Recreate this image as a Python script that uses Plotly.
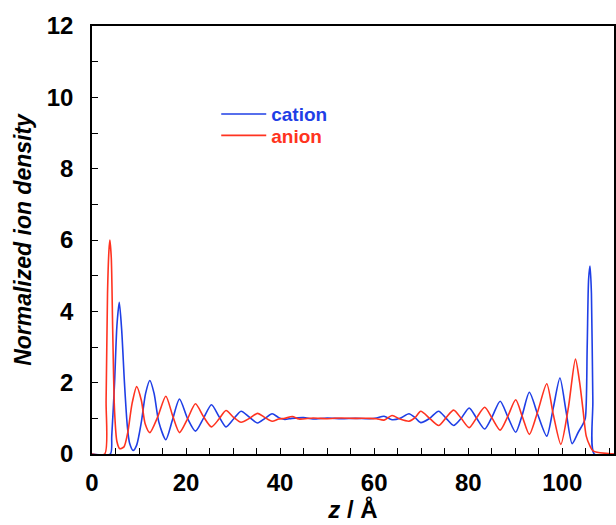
import plotly.graph_objects as go

# Cation (blue) density profile
cation_z = [0, 3.9, 4.2, 4.8, 5.3, 5.8, 6.3, 6.9, 7.5, 8.0, 8.75, 9.5, 10.5, 11.4, 12.3,
            13.2, 14.2, 15.7, 17.1, 18.6, 20.3, 22.0, 23.7, 25.4, 27.0, 28.5, 30.1,
            31.7, 33.5, 35.2, 36.8, 38.3, 39.7, 41.0, 42.5, 45.0, 47.0, 50.0, 53.0,
            56.0, 59.0, 60.5, 62.1, 63.8, 65.5, 67.4, 68.7, 69.9, 71.8, 73.7, 75.3,
            76.9, 78.5, 80.2, 81.8, 83.5, 85.1, 86.8, 88.4, 90.1, 91.5, 93.0, 94.8,
            96.7, 98.1, 99.5, 100.8, 102.1, 103.4, 104.4, 104.9, 105.3, 105.6, 105.9,
            106.2, 106.5, 106.8, 111.0]
cation_rho = [0, 0, 0.5, 2.0, 3.6, 4.25, 3.5, 2.0, 0.8, 0.3, 0.1, 0.25, 0.9, 1.7, 2.06,
              1.7, 0.9, 0.4, 0.95, 1.54, 1.0, 0.64, 1.0, 1.38, 1.05, 0.76, 0.98,
              1.2, 1.03, 0.87, 1.0, 1.13, 1.02, 0.97, 1.0, 1.02, 0.98, 1.01, 0.99,
              1.0, 0.99, 1.01, 1.06, 0.96, 1.0, 1.13, 1.02, 0.88, 1.0, 1.2, 1.0,
              0.8, 1.0, 1.29, 1.0, 0.7, 1.05, 1.48, 1.05, 0.61, 1.1, 1.73, 1.1,
              0.5, 1.3, 2.13, 1.2, 0.29, 0.61, 0.84, 1.0, 3.0, 4.9, 5.27,
              4.5, 1.5, 0, 0]

# Anion (red) density profile
anion_z = [0, 2.7, 3.0, 3.3, 3.6, 3.8, 4.1, 4.4, 4.8, 5.3, 5.9, 6.8, 7.6, 8.5, 9.5,
           10.5, 11.3, 12.3, 14.0, 15.7, 17.2, 18.6, 20.3, 22.0, 23.7, 25.4, 27.0,
           28.5, 30.1, 31.7, 33.5, 35.2, 36.8, 38.3, 39.7, 41.0, 42.6, 44.0, 47.0,
           50.0, 53.0, 56.0, 59.0, 60.5, 62.1, 63.8, 65.5, 67.4, 68.7, 69.9, 71.8,
           73.7, 75.3, 76.9, 78.5, 80.2, 81.8, 83.5, 85.1, 86.8, 88.4, 90.1, 91.5,
           93.0, 94.8, 96.7, 98.1, 99.7, 101.3, 102.8, 103.7, 104.4, 105.1, 105.9,
           106.6, 111.0]
anion_rho = [0, 0, 1.5, 4.5, 5.7, 6.0, 5.5, 3.5, 1.2, 0.35, 0.15, 0.2, 0.6, 1.4, 1.89,
             1.5, 0.85, 0.6, 1.05, 1.62, 1.05, 0.6, 0.98, 1.41, 1.05, 0.76, 0.98,
             1.22, 1.03, 0.89, 1.0, 1.14, 1.02, 0.92, 0.98, 1.0, 1.05, 0.98, 1.01,
             0.99, 1.01, 1.0, 1.0, 0.99, 0.95, 1.08, 0.98, 0.92, 1.02, 1.2, 1.0,
             0.8, 1.02, 1.23, 1.0, 0.74, 1.02, 1.31, 1.0, 0.67, 1.05, 1.52, 1.05,
             0.55, 1.2, 1.97, 1.1, 0.27, 1.3, 2.66, 2.0, 1.25, 0.5, 0.22,
             0.08, 0]

x_ticks = [0, 20, 40, 60, 80, 100]
y_ticks = [0, 2, 4, 6, 8, 10, 12]

BLUE = "#1f3fe6"
RED = "#ff3320"
FONT = "Liberation Sans, Arial, sans-serif"

fig = go.Figure()
fig.add_trace(go.Scatter(
    x=cation_z, y=cation_rho, mode="lines", legend="legend", showlegend=True,
    line=dict(color=BLUE, width=1.6, shape="spline", smoothing=0.7),
    name=f"<b><span style='color:{BLUE}'>cation</span></b>"))
fig.add_trace(go.Scatter(
    x=anion_z, y=anion_rho, mode="lines", legend="legend2", showlegend=True,
    line=dict(color=RED, width=1.6, shape="spline", smoothing=0.7),
    name=f"<b><span style='color:{RED}'>anion</span></b>"))

axis_font = dict(family=FONT, size=24, color="black")
leg_common = dict(xanchor="left", yanchor="middle", bgcolor="rgba(0,0,0,0)",
                  font=dict(family=FONT, size=19), itemwidth=45, borderwidth=0)

fig.update_layout(
    width=616, height=525,
    showlegend=True,
    margin=dict(l=92, r=2, t=26, b=71, autoexpand=False),
    paper_bgcolor="white", plot_bgcolor="white",
    font=dict(family=FONT, color="black"),
    legend=dict(x=0.238, y=0.794, **leg_common),
    legend2=dict(x=0.238, y=0.744, **leg_common),
    xaxis=dict(range=[0, 111], tickvals=x_ticks,
               ticktext=[f"<b>{v}</b>" for v in x_ticks],
               ticks="inside", ticklen=6, tickwidth=1.3, tickcolor="black",
               minor=dict(dtick=5, ticks="inside", ticklen=6, tickcolor="black", tickwidth=1.2),
               showline=True, linecolor="black", linewidth=1.5, mirror=True,
               showgrid=False, zeroline=False, tickfont=axis_font, automargin=False,
               ticklabelstandoff=6,
               title=dict(text="<b><i>z</i> / Å</b>", font=dict(family=FONT, size=24, color="black"), standoff=6)),
    yaxis=dict(range=[0, 12], tickvals=y_ticks,
               ticktext=[f"<b>{v}</b>" for v in y_ticks],
               ticks="inside", ticklen=6, tickwidth=1.3, tickcolor="black",
               minor=dict(dtick=1, ticks="inside", ticklen=6, tickcolor="black", tickwidth=1.2),
               showline=True, linecolor="black", linewidth=1.5, mirror=True,
               showgrid=False, zeroline=False, tickfont=axis_font, automargin=False,
               ticklabelstandoff=12,
               title=dict(text="<b><i>Normalized ion density</i></b>", font=dict(family=FONT, size=23, color="black"), standoff=9)),
)

fig.write_html("out.html", config={"displayModeBar": False},
               post_script="document.body.style.margin='0';document.body.style.overflow='hidden';")
